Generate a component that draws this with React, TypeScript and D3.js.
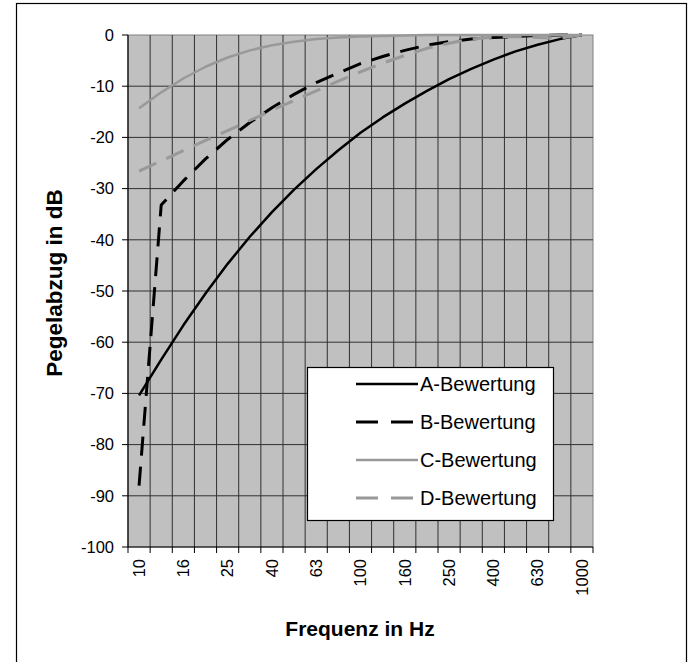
import React, { useEffect, useRef } from 'react';
import * as d3 from 'd3';

// Terzmittenfrequenzen 10 Hz .. 1000 Hz
const freqs = ['10', '12.5', '16', '20', '25', '31.5', '40', '50', '63', '80', '100',
  '125', '160', '200', '250', '315', '400', '500', '630', '800', '1000'];
const shownLabels = ['10', '16', '25', '40', '63', '100', '160', '250', '400', '630', '1000'];

const aBew = [-70.4, -63.4, -56.7, -50.5, -44.7, -39.4, -34.6, -30.2, -26.2, -22.5, -19.1,
  -16.1, -13.4, -10.9, -8.6, -6.6, -4.8, -3.2, -1.9, -0.8, 0];
const bBew = [-88, -33.2, -28.5, -24.2, -20.4, -17.1, -14.2, -11.6, -9.3, -7.4, -5.6,
  -4.2, -3.0, -2.0, -1.3, -0.8, -0.5, -0.3, -0.1, 0, 0];
const cBew = [-14.3, -11.2, -8.5, -6.2, -4.4, -3.0, -2.0, -1.3, -0.8, -0.5, -0.3,
  -0.2, -0.1, 0, 0, 0, 0, 0, 0, 0, 0];
const dBew = [-26.6, -24.6, -22.6, -20.6, -18.7, -16.7, -14.7, -12.8, -10.9, -9.0, -7.2,
  -5.5, -4.0, -2.6, -1.6, -0.8, -0.4, -0.3, -0.5, -0.6, 0];

const yTicks = [0, -10, -20, -30, -40, -50, -60, -70, -80, -90, -100];

const series = [
  { name: 'A-Bewertung', values: aBew, color: '#000000', width: 2.5, dash: null },
  { name: 'B-Bewertung', values: bBew, color: '#000000', width: 3, dash: '19,11' },
  { name: 'C-Bewertung', values: cBew, color: '#999999', width: 2.5, dash: null },
  { name: 'D-Bewertung', values: dBew, color: '#999999', width: 3, dash: '19,11' },
];

export default function App() {
  const ref = useRef<SVGSVGElement>(null);

  useEffect(() => {
    const width = 688, height = 662;
    const left = 128, right = 593, top = 35, bottom = 547;
    const font = 'Liberation Sans, Arial, sans-serif';

    const svg = d3.select(ref.current);
    svg.selectAll('*').remove();

    // outer frame
    svg.append('rect')
      .attr('x', 16.5).attr('y', 3.5)
      .attr('width', 670).attr('height', 700)
      .attr('fill', 'white').attr('stroke', 'black').attr('stroke-width', 1.2);

    const x = d3.scaleBand().domain(freqs).range([left, right]).padding(0);
    const y = d3.scaleLinear().domain([-100, 0]).range([bottom, top]);
    const cx = (f: string) => (x(f) as number) + x.bandwidth() / 2;

    // plot area
    svg.append('rect')
      .attr('x', left).attr('y', top)
      .attr('width', right - left).attr('height', bottom - top)
      .attr('fill', '#c0c0c0').attr('stroke', '#808080').attr('stroke-width', 1);

    // vertical grid at category boundaries
    const bounds = freqs.map(f => x(f) as number).concat([right]);
    svg.append('g').selectAll('line')
      .data(bounds.slice(1, -1))
      .enter().append('line')
      .attr('x1', d => d).attr('x2', d => d)
      .attr('y1', top).attr('y2', bottom)
      .attr('stroke', '#303030').attr('stroke-width', 1);

    // horizontal grid
    svg.append('g').selectAll('line')
      .data(yTicks.filter(t => t !== 0 && t !== -100))
      .enter().append('line')
      .attr('x1', left).attr('x2', right)
      .attr('y1', d => y(d)).attr('y2', d => y(d))
      .attr('stroke', '#303030').attr('stroke-width', 1);

    // axes lines
    svg.append('line').attr('x1', left).attr('x2', left).attr('y1', top).attr('y2', bottom)
      .attr('stroke', 'black').attr('stroke-width', 1.2);
    svg.append('line').attr('x1', left).attr('x2', right).attr('y1', bottom).attr('y2', bottom)
      .attr('stroke', 'black').attr('stroke-width', 1.2);

    // y ticks + labels
    const yg = svg.append('g');
    yTicks.forEach(t => {
      yg.append('line').attr('x1', left - 6).attr('x2', left)
        .attr('y1', y(t)).attr('y2', y(t)).attr('stroke', 'black');
      yg.append('text').attr('x', 114).attr('y', y(t)).attr('dy', '0.35em')
        .attr('text-anchor', 'end').attr('font-family', font).attr('font-size', 16.5)
        .text(t);
    });

    // x ticks + labels
    const xg = svg.append('g');
    bounds.forEach(b => {
      xg.append('line').attr('x1', b).attr('x2', b)
        .attr('y1', bottom).attr('y2', bottom + 6).attr('stroke', 'black');
    });
    shownLabels.forEach(f => {
      xg.append('text')
        .attr('transform', `translate(${cx(f)},${bottom + 12}) rotate(-90)`)
        .attr('dy', '0.35em')
        .attr('text-anchor', 'end').attr('font-family', font).attr('font-size', 16.5)
        .text(f);
    });

    // axis titles
    svg.append('text')
      .attr('transform', `translate(54,${(top + bottom) / 2 - 8}) rotate(-90)`)
      .attr('dy', '0.35em')
      .attr('text-anchor', 'middle').attr('font-family', font)
      .attr('font-size', 22.5).attr('font-weight', 'bold')
      .text('Pegelabzug in dB');
    svg.append('text')
      .attr('x', 360).attr('y', 636)
      .attr('text-anchor', 'middle').attr('font-family', font)
      .attr('font-size', 21).attr('font-weight', 'bold')
      .text('Frequenz in Hz');

    // series lines
    const line = d3.line<number>()
      .x((d, i) => cx(freqs[i]))
      .y(d => y(d));
    series.forEach(s => {
      svg.append('path')
        .datum(s.values)
        .attr('d', line)
        .attr('fill', 'none')
        .attr('stroke', s.color)
        .attr('stroke-width', s.width)
        .attr('stroke-dasharray', s.dash)
        .attr('stroke-linejoin', 'round');
    });

    // legend
    const lg = svg.append('g');
    lg.append('rect')
      .attr('x', 307.5).attr('y', 367.5).attr('width', 246).attr('height', 153)
      .attr('fill', 'white').attr('stroke', 'black').attr('stroke-width', 1.2);
    series.forEach((s, i) => {
      const ly = 384 + i * 38;
      lg.append('line')
        .attr('x1', 356).attr('x2', 418).attr('y1', ly).attr('y2', ly)
        .attr('stroke', s.color).attr('stroke-width', s.width)
        .attr('stroke-dasharray', s.dash ? '22,13' : null);
      lg.append('text')
        .attr('x', 420).attr('y', ly).attr('dy', '0.35em')
        .attr('font-family', font).attr('font-size', 20)
        .text(s.name);
    });

    svg.attr('width', width).attr('height', height);
  }, []);

  return (
    <svg ref={ref} width={688} height={662}
      style={{ position: 'absolute', left: 0, top: 0 }} />
  );
}
